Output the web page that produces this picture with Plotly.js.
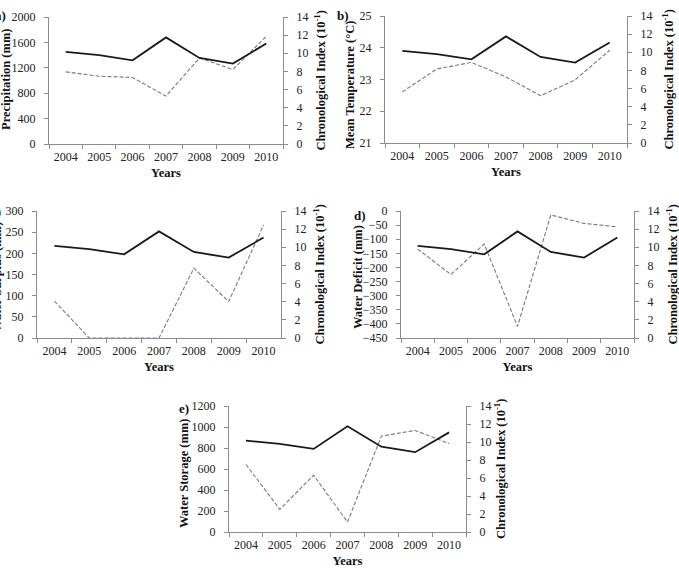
<!DOCTYPE html>
<html>
<head>
<meta charset="utf-8">
<script src="https://cdn.plot.ly/plotly-3.0.1.min.js"></script>
<style>
  html, body { margin: 0; padding: 0; background: #fff; }
  #chart { width: 679px; height: 568px; }
</style>
</head>
<body>
<div id="chart"></div>
<script>
// Annual series, 2004-2010
const years = ['2004', '2005', '2006', '2007', '2008', '2009', '2010'];
const chronIndex = [10.15, 9.8, 9.23, 11.75, 9.48, 8.87, 11.07];   // x 10^-1
const precipitation = [1136, 1068, 1047, 754, 1356, 1173, 1696];   // mm
const meanTemperature = [22.61, 23.33, 23.54, 23.08, 22.49, 22.99, 23.92]; // °C
const waterSurplus = [87, 0, 0, 0, 165, 86, 267];                  // mm
const waterDeficit = [-135, -225, -117, -409, -14, -44, -56];      // mm
const waterStorage = [643, 216, 541, 95, 913, 967, 843];           // mm

const W = 679, H = 568;
const FONT = 'Liberation Serif, Times New Roman, serif';
const AXIS_GREY = '#8c8c8c';

// panel boxes in pixels: [left, right, top, bottom]; tag/title positions in pixels
const panels = [
  { tag: 'a)', tagX: 8,   tagY: 16,  box: [49, 283, 17, 144],  leftX: 6,   leftY: 80,  rightX: 320, title: 'Precipitation (mm)',    data: precipitation,   range: [0, 2000],  dtick: 400 },
  { tag: 'b)', tagX: 351, tagY: 16,  box: [385, 627, 16, 143], leftX: 350, leftY: 85,  rightX: 667, title: 'Mean Temperature (°C)', data: meanTemperature, range: [21, 25],   dtick: 1 },
  { tag: 'c)', tagX: 3,   tagY: 212, box: [37, 281, 211, 338], leftX: -3,  leftY: 277, rightX: 318, title: 'Water Surplus (mm)',    data: waterSurplus,    range: [0, 300],   dtick: 50 },
  { tag: 'd)', tagX: 368, tagY: 215, box: [401, 634, 211, 338], leftX: 358, leftY: 277, rightX: 671, title: 'Water Deficit (mm)',   data: waterDeficit,    range: [-450, 0],  dtick: 50 },
  { tag: 'e)', tagX: 191, tagY: 408, box: [229, 466, 406, 532], leftX: 184, leftY: 474, rightX: 500, title: 'Water Storage (mm)',   data: waterStorage,    range: [0, 1200],  dtick: 200 }
];

const tickFont = { family: FONT, size: 12, color: '#222' };
const titleFont = { family: FONT, size: 12.5, color: '#111' };

const traces = [];
const layout = {
  width: W, height: H,
  margin: { l: 0, r: 0, t: 0, b: 0 },
  paper_bgcolor: '#fff', plot_bgcolor: '#fff',
  showlegend: false,
  annotations: []
};

panels.forEach((p, i) => {
  const n = i + 1;
  const xName = n === 1 ? 'x' : 'x' + n;
  const yL = 'y' + (2 * n - 1 === 1 ? '' : 2 * n - 1);
  const yR = 'y' + (2 * n);
  const xKey = n === 1 ? 'xaxis' : 'xaxis' + n;
  const yLKey = 'yaxis' + (2 * n - 1 === 1 ? '' : 2 * n - 1);
  const yRKey = 'yaxis' + (2 * n);
  const [l, r, t, b] = p.box;
  const xd = [l / W, r / W];
  const yd = [1 - b / H, 1 - t / H];
  const midY = 1 - (t + b) / 2 / H;

  // climate variable (left axis), dashed grey
  traces.push({
    x: years, y: p.data, xaxis: xName, yaxis: yL,
    type: 'scatter', mode: 'lines',
    line: { color: '#7a7a7a', width: 1.1, dash: '4px,2px' },
    hoverinfo: 'skip'
  });
  // chronological index (right axis), solid black
  traces.push({
    x: years, y: chronIndex, xaxis: xName, yaxis: yR,
    type: 'scatter', mode: 'lines',
    line: { color: '#1a1a1a', width: 1.8 },
    hoverinfo: 'skip'
  });

  layout[xKey] = {
    type: 'category', domain: xd, anchor: yL,
    range: [-0.5, 6.5], tickson: 'boundaries',
    ticks: 'outside', ticklen: 4, tickcolor: AXIS_GREY, tickwidth: 1,
    showline: true, linecolor: AXIS_GREY, linewidth: 1,
    showgrid: false, zeroline: false,
    tickfont: tickFont, ticklabelstandoff: 2,
    title: { text: '<b>Years</b>', font: titleFont, standoff: 4 }
  };
  layout[yLKey] = {
    domain: yd, anchor: xName,
    range: p.range, dtick: p.dtick, tick0: p.range[0],
    ticks: 'outside', ticklen: 4, tickcolor: AXIS_GREY,
    showline: true, linecolor: AXIS_GREY, linewidth: 1,
    showgrid: false, zeroline: false,
    tickfont: tickFont, ticklabelstandoff: 6
  };
  layout[yRKey] = {
    domain: yd, anchor: xName, overlaying: yL, side: 'right',
    range: [0, 14], dtick: 2,
    ticks: 'outside', ticklen: 4, tickcolor: AXIS_GREY,
    showline: true, linecolor: AXIS_GREY, linewidth: 1,
    showgrid: false, zeroline: false,
    tickfont: tickFont, ticklabelstandoff: 6
  };

  // vertical axis titles
  layout.annotations.push({
    text: '<b>' + p.title + '</b>', xref: 'paper', yref: 'paper',
    x: p.leftX / W, y: 1 - p.leftY / H, xanchor: 'center', yanchor: 'middle',
    textangle: -90, showarrow: false, font: titleFont
  });
  layout.annotations.push({
    text: '<b>Chronological Index (10<sup>-1</sup>)</b>', xref: 'paper', yref: 'paper',
    x: p.rightX / W, y: midY, xanchor: 'center', yanchor: 'middle',
    textangle: -90, showarrow: false, font: titleFont
  });
  // panel tag
  layout.annotations.push({
    text: '<b>' + p.tag + '</b>', xref: 'paper', yref: 'paper',
    x: p.tagX / W, y: 1 - p.tagY / H, xanchor: 'right', yanchor: 'middle',
    showarrow: false, font: { family: FONT, size: 13, color: '#111' }
  });
});

Plotly.newPlot('chart', traces, layout, { staticPlot: true, displayModeBar: false });
</script>
</body>
</html>
